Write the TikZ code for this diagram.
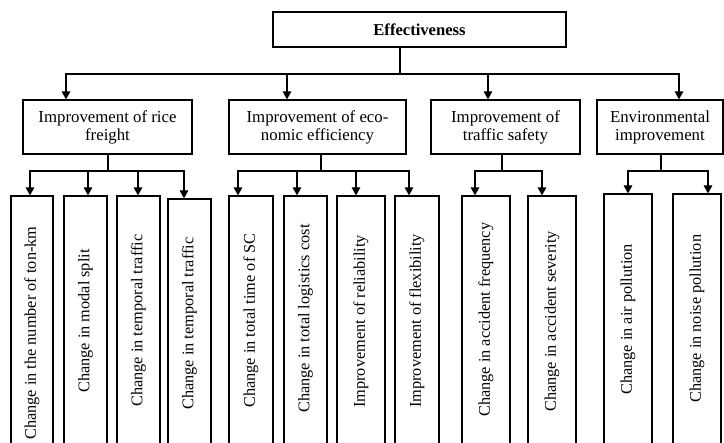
\documentclass[tikz,border=0pt]{standalone}
\usepackage{fontspec}
\setmainfont{Liberation Serif}
\usetikzlibrary{arrows.meta,calc}
\tikzset{
    goal/.style={rectangle, draw, line width=1.2pt, minimum width=293pt, minimum height=35pt, inner sep=0, font=\fontsize{16.6}{19}\selectfont\bfseries},
    aspect/.style={rectangle, draw, line width=1.2pt, minimum height=54pt, inner sep=0, align=center, font=\fontsize{16.8}{18}\selectfont},
    indicator/.style={rectangle, draw, line width=1.2pt, inner sep=0},
    vlabel/.style={rotate=90, anchor=west, inner sep=0},
    link/.style={line width=1.2pt},
    flow/.style={-{Triangle[length=8pt,width=8.5pt]}, line width=1.2pt},
}

\begin{document}
\begin{tikzpicture}[x=1pt,y=-1pt]
    \useasboundingbox (0,0) rectangle (724,443);

    \node[goal] (eff) at (419.5,29.5) {Effectiveness};
    \node[aspect, minimum width=169pt] (rice) at (107.5,127) {Improvement of rice\\freight};
    \node[aspect, minimum width=177pt] (econ) at (317.5,127) {Improvement of eco-\\nomic efficiency};
    \node[aspect, minimum width=149pt] (safe) at (505.5,127) {Improvement of\\traffic safety};
    \node[aspect, minimum width=126pt] (env) at (660,127) {Environmental\\improvement};

    % effectiveness -> aspects
    \coordinate (hub) at (400,74);
    \draw[link] (eff.south -| hub) -- (hub);
    \foreach \b/\x in {rice/66, econ/287, safe/488, env/679}
        \draw[flow] (hub) -| (\b.north -| \x,0);

    % stems under the aspects
    \foreach \b/\x in {rice/108, econ/321, safe/502, env/661}
        \draw[link] (\b.south -| \x,0) -- (\x,171);

    % indicators: parent / stem x / name / left / right / top / arrow x / text start / font size / text
    \foreach \p/\j/\n/\l/\r/\t/\a/\s/\f/\txt in {
        rice/108/L1/11/53/196/30/440/16.3/Change in the number of ton-km,
        rice/108/L2/64/107/196/88/393/16.3/Change in modal split,
        rice/108/L3/117/160/196/138/407/16.3/Change in temporal traffic,
        rice/108/L4/168/211/199/184/410/16.3/Change in temporal traffic,
        econ/321/L5/229/273/196/238/408/16.3/Change in total time of SC,
        econ/321/L6/284/327/196/297/413/16.3/Change in total logistics cost,
        econ/321/L7/337/385/196/356/408/16.3/Improvement of reliability,
        econ/321/L8/395/439/196/409/408/16.3/Improvement of flexibility,
        safe/502/L9/462/510/196/475/417/16.3/Change in accident frequency,
        safe/502/L10/528/576/196/542/412/16.3/Change in accident severity,
        env/661/L11/604/652/194/628/395/16.3/Change in air pollution,
        env/661/L12/673/721/194/708/403/16.3/Change in noise pollution}
    {
        \pgfmathsetmacro\cx{(\l+\r)/2}
        \pgfmathsetmacro\cy{(\t+470)/2}
        \pgfmathsetmacro\w{\r-\l}
        \pgfmathsetmacro\h{470-\t}
        \node[indicator, minimum width=\w pt, minimum height=\h pt] (\n) at (\cx,\cy) {};
        \node[vlabel, font=\fontsize{\f}{18}\selectfont] (\n-t) at (\cx,\s) {\txt};
        \draw[flow] (\j,171) -| (\n.north -| \a,0);
    }
\end{tikzpicture}
\end{document}
